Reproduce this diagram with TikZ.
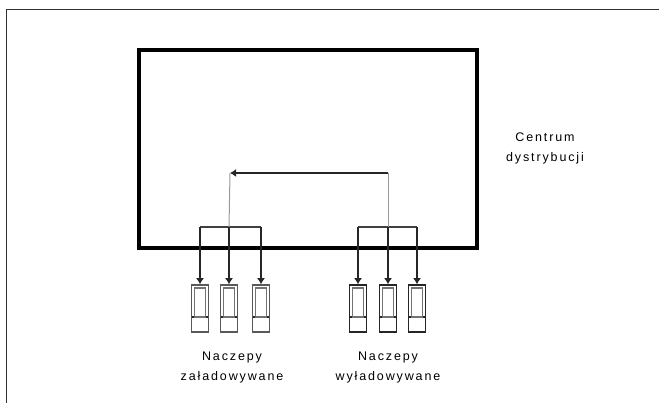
\documentclass[tikz,border=0pt]{standalone}
\usepackage{fontspec}
\setmainfont{Liberation Sans}
\usepackage{tikz}
\usetikzlibrary{arrows.meta, calc}

\begin{document}
\begin{tikzpicture}[
  x=1pt, y=-1pt,
  centre/.style={rectangle, draw=black, line width=4.5pt,
                 minimum width=338pt, minimum height=198pt},
  trailer/.style={rectangle, draw=black!65, line width=1.5pt,
                  minimum width=17pt, minimum height=47pt, inner sep=0pt,
                  path picture={
                    \draw[black!85, line width=1.8pt] ([yshift=15pt]path picture bounding box.south west)
                      -- ([yshift=15pt]path picture bounding box.south east);
                    \draw[black!55, line width=1.1pt] ([xshift=3pt,yshift=15pt]path picture bounding box.south west)
                      rectangle ([xshift=-3pt,yshift=-3pt]path picture bounding box.north east);
                  }},
  label/.style={align=center, font=\fontsize{12.5}{20}\selectfont\addfontfeature{LetterSpace=15}},
  arrow/.style={-{Latex[length=6pt, width=8pt]}, line width=1.7pt, color=black!85},
  link/.style={line width=1.5pt, color=black!75},
  feed/.style={line width=1pt, color=black!40},
]
  \useasboundingbox (0,0) rectangle (659,403);

  % page frame
  \draw[black!80, line width=1pt] (6,403) -- (6,10) -- (659,10);

  \node[centre] (centrum) at (308,149) {};
  \node[label] (cdlabel) at (545,148) {Centrum\\dystrybucji};

  % trailers being loaded
  \node[trailer] (z1) at (200,308.5) {};
  \node[trailer] (z2) at (229,308.5) {};
  \node[trailer] (z3) at (261,308.5) {};
  % trailers being unloaded
  \node[trailer, draw=black!85] (w1) at (358,308.5) {};
  \node[trailer, draw=black!85] (w2) at (388,308.5) {};
  \node[trailer, draw=black!85] (w3) at (417,308.5) {};

  \node[label] (zlabel) at (232,367) {Naczepy\\załadowywane};
  \node[label] (wlabel) at (388,367) {Naczepy\\wyładowywane};

  \coordinate (lt1) at (200,227);
  \coordinate (lt2) at (229,227);
  \coordinate (lt3) at (261,227);
  \coordinate (rt1) at (358,227);
  \coordinate (rt2) at (388,227);
  \coordinate (rt3) at (417,227);
  \coordinate (fr) at (388,173);
  \coordinate (fl) at (230,173);

  \draw[link] (lt1) -- (lt3);
  \draw[link] (rt1) -- (rt3);
  \draw[arrow] (lt1) -- (z1);
  \draw[arrow] (lt2) -- (z2);
  \draw[arrow, line width=2.3pt] (lt3) -- (z3);
  \draw[arrow] (rt1) -- (w1);
  \draw[arrow] (rt2) -- (w2);
  \draw[arrow] (rt3) -- (w3);

  % return flow
  \draw[feed] (rt2) -- (fr);
  \draw[arrow, line width=1.5pt] (fr) -- (fl);
  \draw[feed] (fl) -- (lt2);
\end{tikzpicture}
\end{document}
